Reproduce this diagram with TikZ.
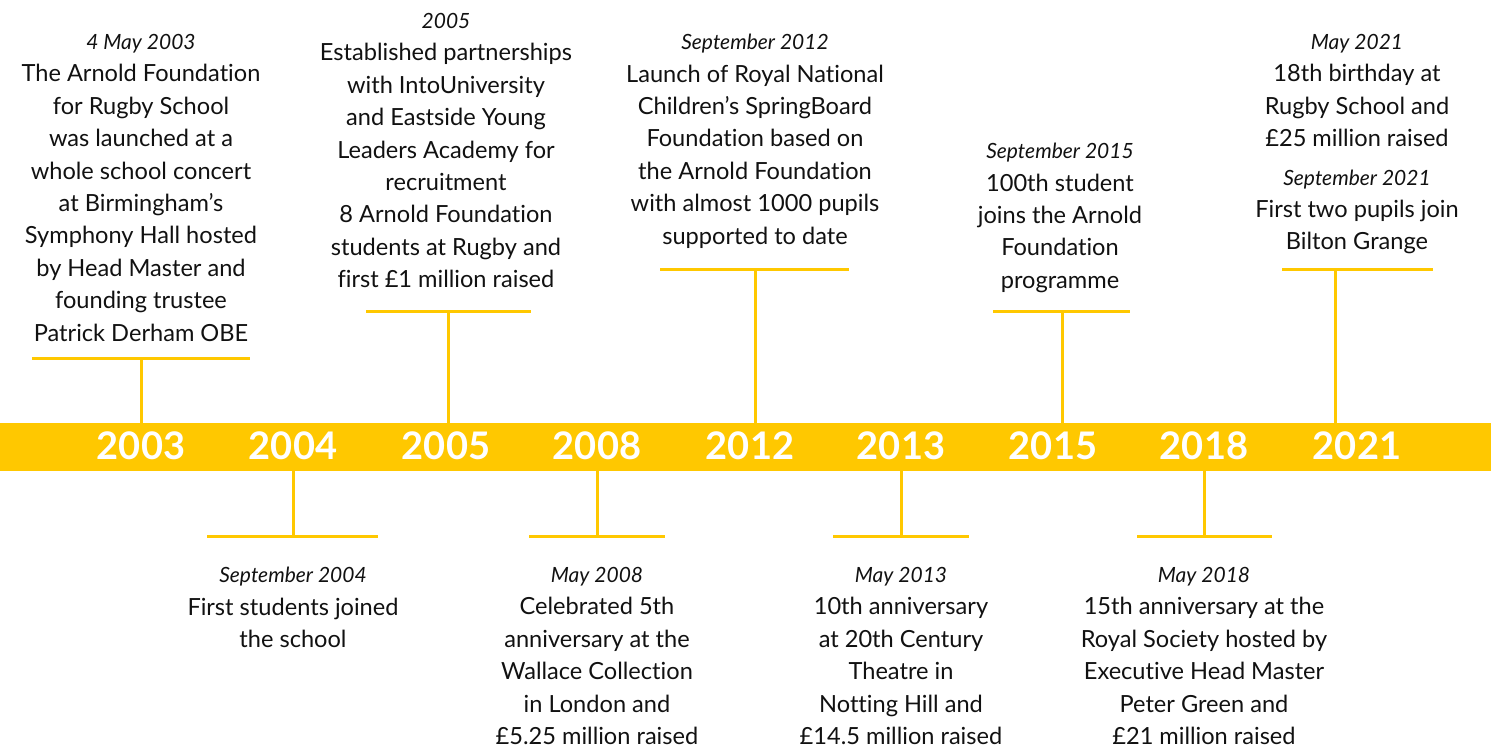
\documentclass[tikz,border=0pt]{standalone}
\usepackage{fontspec}
\setmainfont{Lato}[Ligatures={TeX,NoCommon}]
\definecolor{gold}{HTML}{FFC800}
\definecolor{ink}{HTML}{111111}
\newcommand{\dt}{\fontsize{21}{32.4}\selectfont\itshape}
\tikzset{
  evt/.style={align=center, inner sep=0pt, anchor=north, text=ink, font=\fontsize{23.6}{32.4}\selectfont},
  yr/.style={anchor=base, inner sep=0pt, text=white, font=\fontsize{38}{38}\selectfont\bfseries},
  tick/.style={draw=gold, line width=3pt},
}
\begin{document}
\begin{tikzpicture}[x=1pt,y=-1pt]
\useasboundingbox (0,0) rectangle (1491,749);
\fill[gold] (0,423) rectangle (1491,471);
% years
\node[yr] (y03) at (141,459) {2003};
\node[yr] (y04) at (293,459) {2004};
\node[yr] (y05) at (446,459) {2005};
\node[yr] (y08) at (597,459) {2008};
\node[yr] (y12) at (750,459) {2012};
\node[yr] (y13) at (901,459) {2013};
\node[yr] (y15) at (1053,459) {2015};
\node[yr] (y18) at (1204,459) {2018};
\node[yr] (y21) at (1357,459) {2021};
% connector coordinates (top)
\coordinate (b03) at (141,423); \coordinate (h03) at (141,358);
\coordinate (h03l) at (32,358); \coordinate (h03r) at (250,358);
\coordinate (b05) at (448,423); \coordinate (h05) at (448,311);
\coordinate (h05l) at (366,311); \coordinate (h05r) at (531,311);
\coordinate (b12) at (755,423); \coordinate (h12) at (755,269);
\coordinate (h12l) at (660,269); \coordinate (h12r) at (849,269);
\coordinate (b15) at (1062,423); \coordinate (h15) at (1062,311);
\coordinate (h15l) at (993,311); \coordinate (h15r) at (1130,311);
\coordinate (b21) at (1335,423); \coordinate (h21) at (1335,269);
\coordinate (h21l) at (1282,269); \coordinate (h21r) at (1433,269);
% connector coordinates (bottom)
\coordinate (b04) at (293,471); \coordinate (h04) at (293,536);
\coordinate (h04l) at (207,536); \coordinate (h04r) at (378,536);
\coordinate (b08) at (597,471); \coordinate (h08) at (597,536);
\coordinate (h08l) at (529,536); \coordinate (h08r) at (665,536);
\coordinate (b13) at (901,471); \coordinate (h13) at (901,536);
\coordinate (h13l) at (833,536); \coordinate (h13r) at (969,536);
\coordinate (b18) at (1204,471); \coordinate (h18) at (1204,536);
\coordinate (h18l) at (1137,536); \coordinate (h18r) at (1272,536);
\foreach \k in {03,05,12,15,21,04,08,13,18}{
  \draw[tick] (b\k) -- (h\k);
  \draw[tick] (h\k l) -- (h\k r);
}
% texts top
\node[evt] (t03) at (141,34) {{\dt 4 May 2003}\\The Arnold Foundation\\for Rugby School\\was launched at a\\whole school concert\\at Birmingham’s\\Symphony Hall hosted\\by Head Master and\\founding trustee\\Patrick Derham OBE};
\node[evt] (t05) at (446,13) {{\dt 2005}\\Established partnerships\\with IntoUniversity\\and Eastside Young\\Leaders Academy for\\recruitment\\8 Arnold Foundation\\students at Rugby and\\first £1 million raised};
\node[evt] (t12) at (755,34) {{\dt September 2012}\\Launch of Royal National\\Children’s SpringBoard\\Foundation based on\\the Arnold Foundation\\with almost 1000 pupils\\supported to date};
\node[evt] (t15) at (1060,143) {{\dt September 2015}\\100th student\\joins the Arnold\\Foundation\\programme};
\node[evt] (t21) at (1357,34) {{\dt May 2021}\\18th birthday at\\Rugby School and\\£25 million raised\\[6pt]{\dt September 2021}\\First two pupils join\\Bilton Grange};
% texts bottom
\node[evt] (t04) at (293,567) {{\dt September 2004}\\First students joined\\the school};
\node[evt] (t08) at (597,567) {{\dt May 2008}\\Celebrated 5th\\anniversary at the\\Wallace Collection\\in London and\\£5.25 million raised};
\node[evt] (t13) at (901,567) {{\dt May 2013}\\10th anniversary\\at 20th Century\\Theatre in\\Notting Hill and\\£14.5 million raised};
\node[evt] (t18) at (1204,567) {{\dt May 2018}\\15th anniversary at the\\Royal Society hosted by\\Executive Head Master\\Peter Green and\\£21 million raised};
\end{tikzpicture}
\end{document}
